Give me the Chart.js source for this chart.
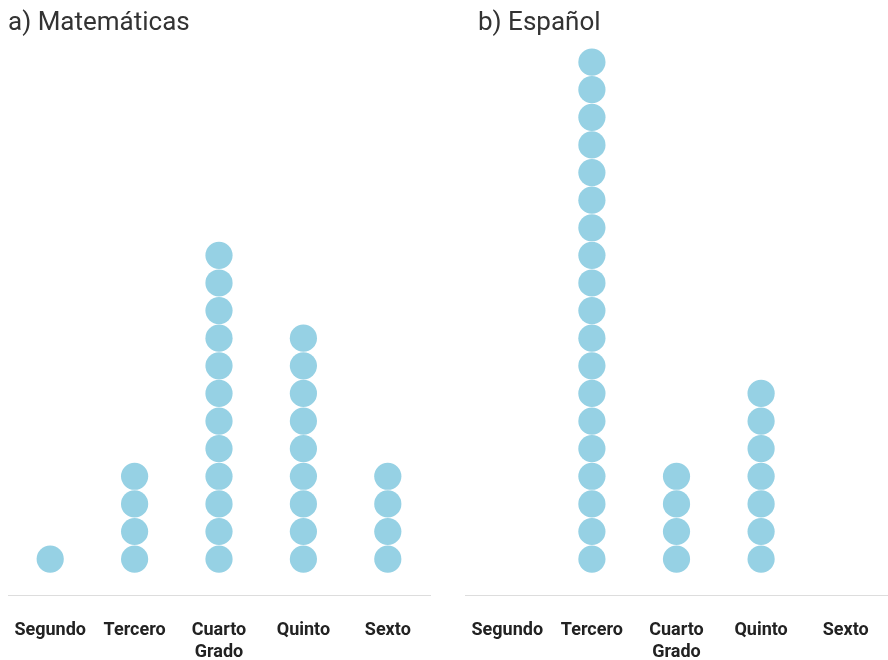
<!DOCTYPE html>
<html>
<head>
<meta charset="utf-8">
<script src="https://cdn.jsdelivr.net/npm/chart.js@4"></script>
<style>
    body { margin: 0; background: #fff; }
    #wrap { position: relative; width: 888px; height: 660px; }
    .panel { position: absolute; top: 0; width: 444px; height: 660px; }
    .title {
        position: absolute;
        top: 8px;
        font-family: Roboto, sans-serif;
        font-size: 26px;
        line-height: 1;
        color: #333;
    }
</style>
</head>
<body>
<div id="wrap">
    <div class="panel" style="left: 0"><canvas id="mathChart"></canvas></div>
    <div class="panel" style="left: 444px"><canvas id="spanishChart"></canvas></div>
    <div class="title" style="left: 8px">a) Matemáticas</div>
    <div class="title" style="left: 478px">b) Español</div>
</div>
<script>
const grades = ['Segundo', 'Tercero', ['Cuarto', 'Grado'], 'Quinto', 'Sexto']
const gradeKeys = ['Segundo', 'Tercero', 'Cuarto Grado', 'Quinto', 'Sexto']
const mathCounts = [1, 4, 12, 9, 4]
const spanishCounts = [0, 19, 4, 7, 0]
const DOT_COLOR = '#96d1e4'

// one point per student, stacked upward in each grade column
function buildDots(counts) {
    const points = []
    counts.forEach((count, i) => {
        for (let k = 1; k <= count; k++) {
            points.push({ x: gradeKeys[i], y: k })
        }
    })
    return points
}

function drawDotPlot(canvasId, counts, padding) {
    const ctx = document.getElementById(canvasId).getContext('2d')
    return new Chart(ctx, {
        type: 'line',
        data: {
            labels: gradeKeys,
            datasets: [
                {
                    data: buildDots(counts),
                    showLine: false,
                    pointRadius: 13.6,
                    pointHoverRadius: 13.6,
                    pointBackgroundColor: DOT_COLOR,
                    pointBorderWidth: 0,
                    borderColor: DOT_COLOR,
                },
            ],
        },
        options: {
            responsive: true,
            maintainAspectRatio: false,
            animation: false,
            events: [],
            // big dots would otherwise add their radius to the padding
            layout: { padding: padding, autoPadding: false },
            plugins: {
                legend: { display: false },
                tooltip: { enabled: false },
            },
            scales: {
                x: {
                    type: 'category',
                    offset: true,
                    // hidden tick marks only push the labels down
                    grid: { display: false, drawTicks: true, tickLength: 25 },
                    border: { display: true, color: '#dddddd', width: 1 },
                    ticks: {
                        padding: 0,
                        color: '#222',
                        maxRotation: 0,
                        autoSkip: false,
                        font: { family: 'Roboto', size: 18, weight: 'bold', lineHeight: 1.2 },
                        callback: (value, index) => grades[index],
                    },
                    afterFit: (scale) => {
                        scale.height = 65
                    },
                },
                y: {
                    display: false,
                    min: -0.3,
                    max: 19.8,
                },
            },
        },
    })
}

drawDotPlot('mathChart', mathCounts, { left: 8, right: 14, top: 40, bottom: 0 })
drawDotPlot('spanishChart', spanishCounts, { left: 21, right: 0, top: 40, bottom: 0 })
</script>
</body>
</html>
